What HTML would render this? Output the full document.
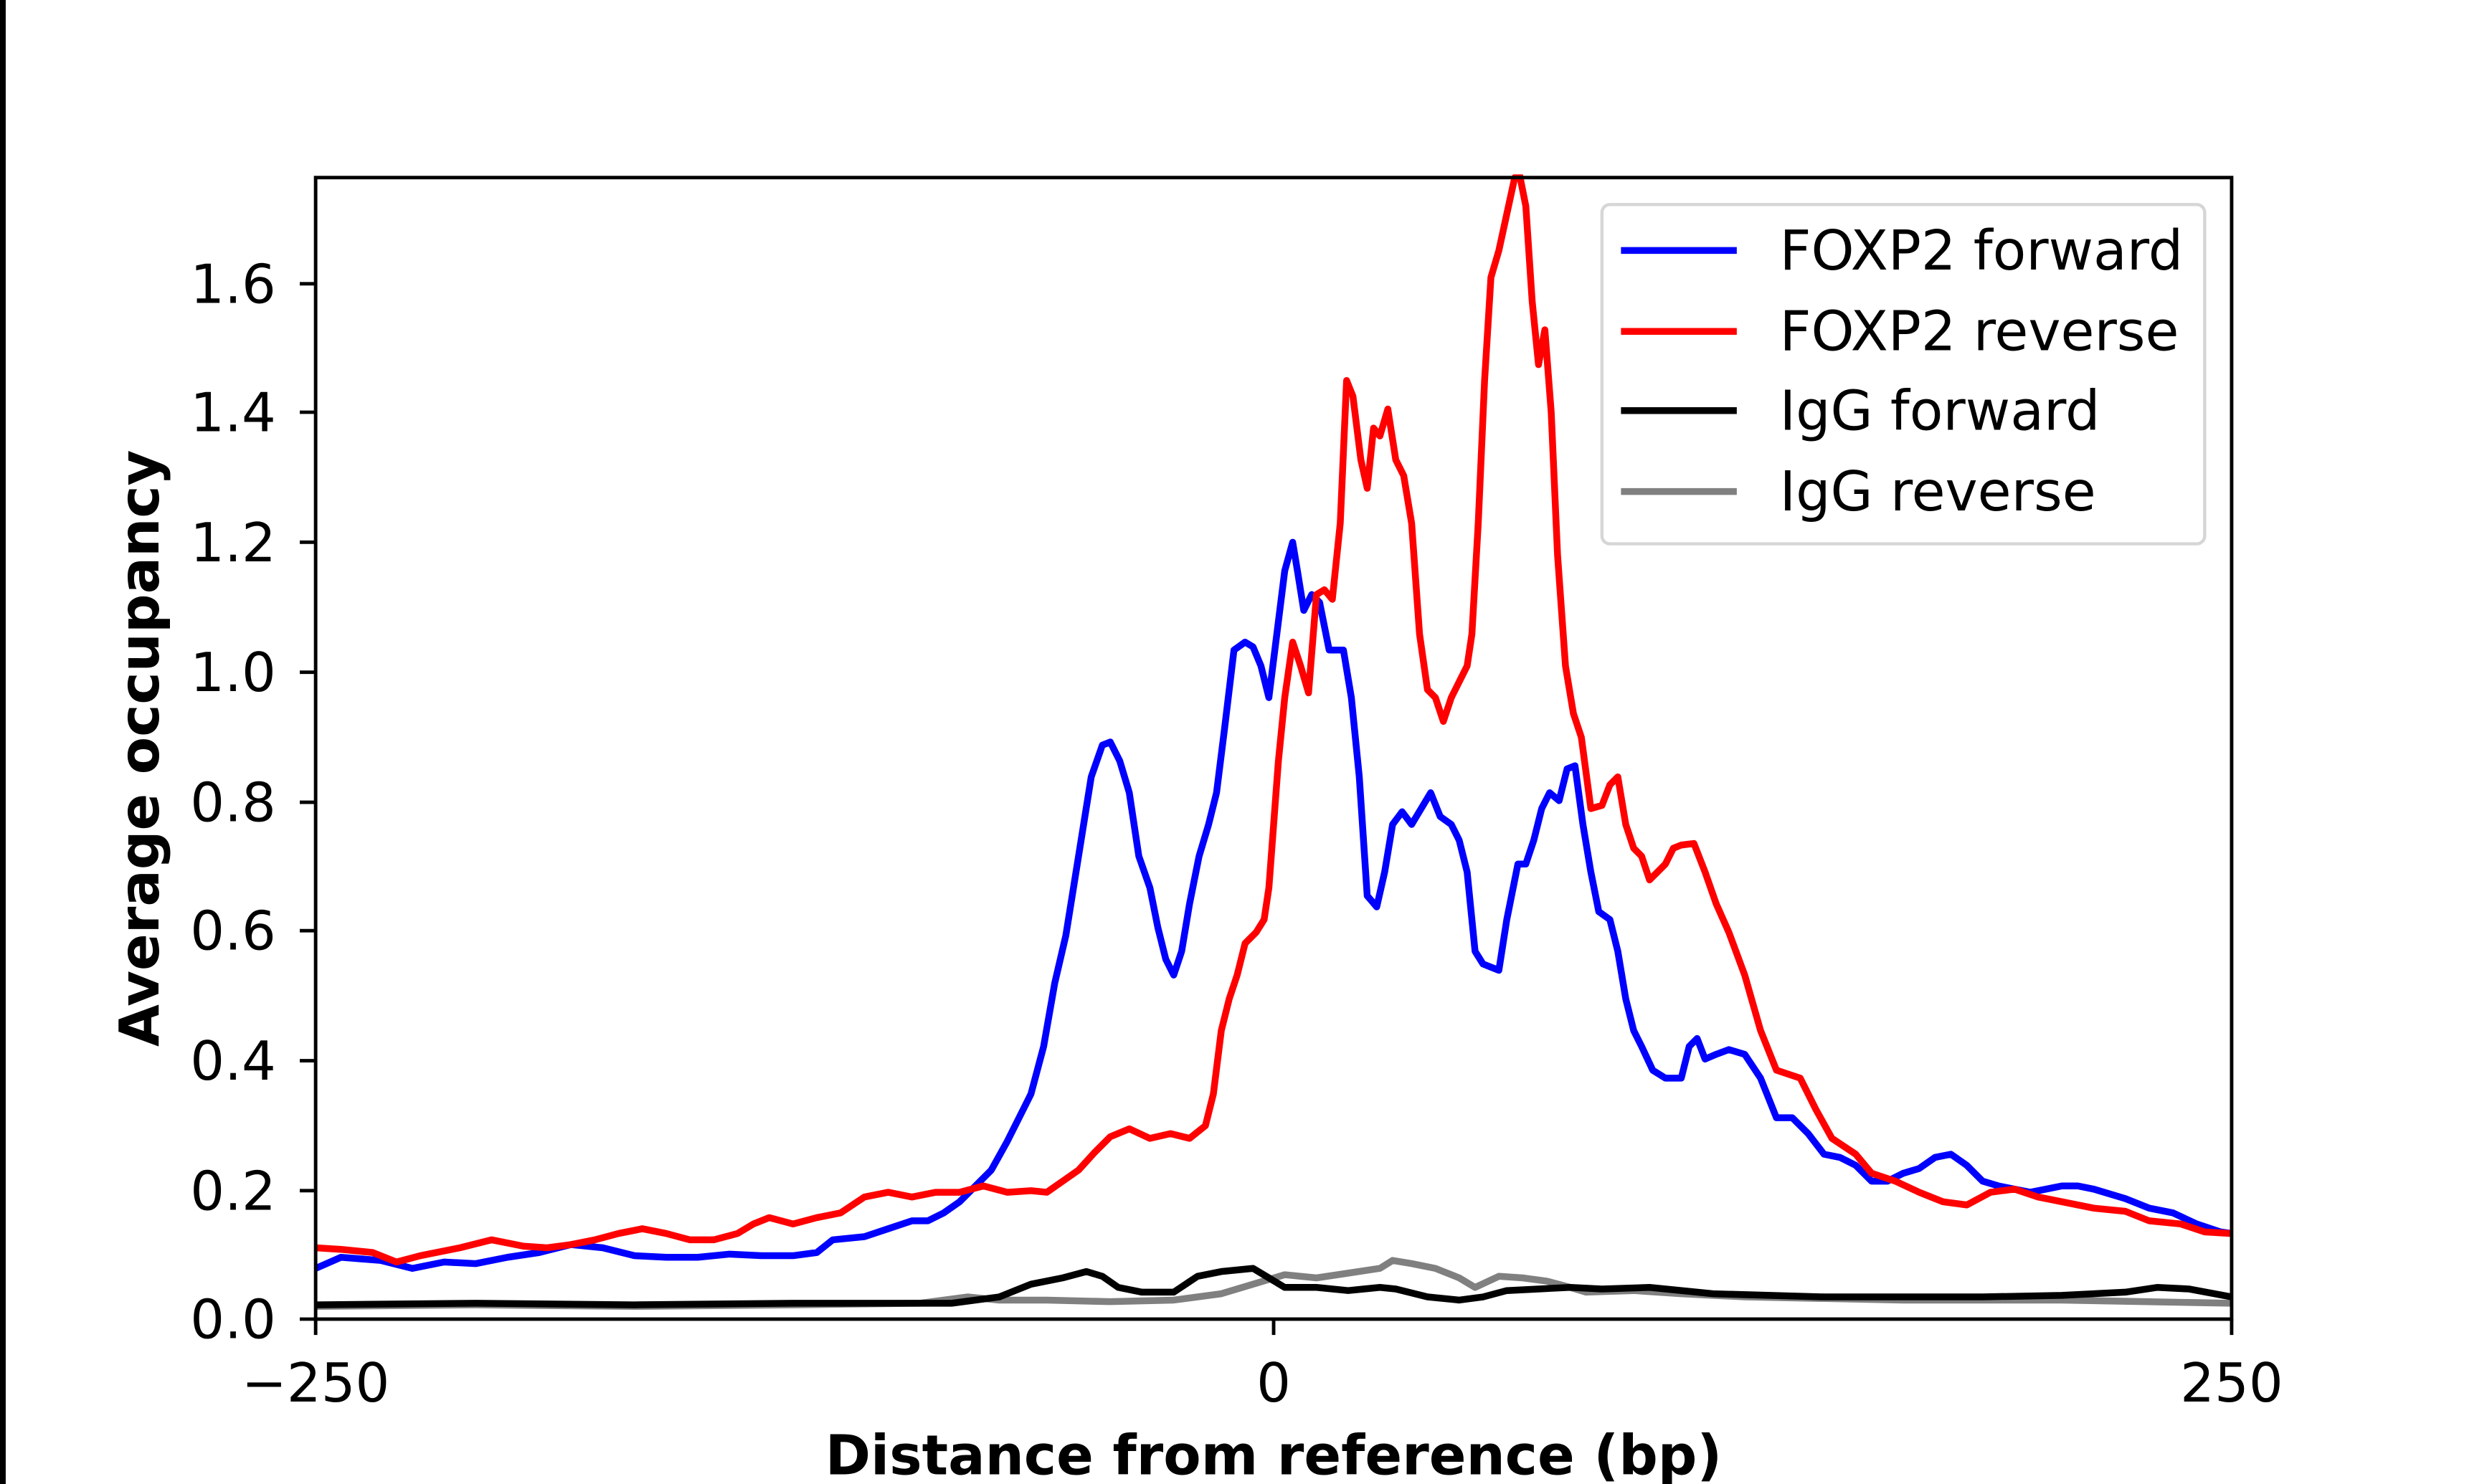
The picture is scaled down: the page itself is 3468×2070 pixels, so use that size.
<!DOCTYPE html>
<html><head><meta charset="utf-8"><style>html,body{margin:0;padding:0;background:#fff}svg{display:block}</style></head>
<body>
<svg width="3468" height="2070" viewBox="0 0 1568 936" preserveAspectRatio="none" xmlns="http://www.w3.org/2000/svg" font-family="'DejaVu Sans','Liberation Sans',sans-serif">
<rect x="0" y="0" width="1568" height="936" fill="#fff"/>
<rect x="0" y="0" width="3.6" height="936" fill="#000"/>
<defs><clipPath id="c"><rect x="199" y="110" width="1208" height="722"/></clipPath></defs>
<g clip-path="url(#c)" fill="none" stroke-width="4.3" stroke-linejoin="round">
<polyline stroke="#808080" points="199,824 300,823 400,824 500,823 580,822 610,818 630,820 660,820 700,821 740,820 770,816 790,810 810,804 830,806 850,803 870,800 878,795 890,797 905,800 920,806 930,812 945,805 960,806 975,808 990,812 1000,815 1030,814 1060,816 1100,818 1200,820 1300,820 1407,822"/>
<polyline stroke="#000" points="199,823 300,822 400,823 500,822 600,822 630,818 650,810 670,806 685,802 695,805 705,812 720,815 740,815 755,805 770,802 790,800 800,806 810,812 830,812 850,814 870,812 880,813 900,818 920,820 935,818 950,814 970,813 990,812 1010,813 1040,812 1080,816 1150,818 1200,818 1250,818 1300,817 1340,815 1360,812 1380,813 1407,818"/>
<polyline stroke="#0000ff" points="199,800 215,793 240,795 260,800 280,796 300,797 320,793 340,790 360,785 380,787 400,792 420,793 440,793 460,791 480,792 500,792 515,790 525,782 545,780 560,775 575,770 585,770 595,765 605,758 615,748 625,738 635,720 645,700 650,690 658,660 665,620 672,590 680,540 688,490 695,470 700,468 706,480 712,500 718,540 725,560 730,585 735,605 740,615 745,600 750,570 756,540 762,520 767,500 772,460 778,410 785,405 790,408 795,420 800,440 805,400 810,360 815,342 818,360 822,385 827,375 832,380 838,410 842,410 847,410 852,440 857,490 862,565 868,572 873,550 878,520 884,512 890,520 896,510 902,500 908,515 915,520 920,530 925,550 930,600 935,608 940,610 945,612 950,580 957,545 962,545 967,530 972,510 977,500 983,505 988,485 993,483 998,520 1003,550 1008,575 1015,580 1020,600 1025,630 1030,650 1035,660 1042,675 1050,680 1060,680 1065,660 1070,655 1075,668 1082,665 1090,662 1100,665 1110,680 1120,705 1130,705 1140,715 1150,728 1160,730 1170,735 1180,745 1190,745 1200,740 1210,737 1220,730 1230,728 1240,735 1250,745 1260,748 1270,750 1280,752 1290,750 1300,748 1310,748 1320,750 1340,756 1355,762 1370,765 1385,772 1400,777 1407,778"/>
<polyline stroke="#ff0000" points="199,787 215,788 235,790 250,796 265,792 290,787 310,782 330,786 345,787 360,785 375,782 390,778 405,775 420,778 435,782 450,782 465,778 475,772 485,768 500,772 515,768 530,765 545,755 560,752 575,755 590,752 605,752 620,748 635,752 650,751 660,752 670,745 680,738 690,727 700,717 712,712 725,718 738,715 750,718 760,710 765,690 770,650 775,630 780,615 785,595 792,588 797,580 800,560 803,520 806,480 810,440 815,405 820,420 825,437 830,375 835,372 840,378 845,330 849,240 853,250 858,290 862,308 866,270 870,275 875,258 880,290 885,300 890,330 895,400 900,435 905,440 910,455 915,440 920,430 925,420 928,400 932,330 936,240 940,175 945,158 950,135 955,112 958,110 962,130 966,190 970,230 974,208 978,260 982,350 987,420 992,450 997,465 1003,510 1010,508 1015,495 1020,490 1025,520 1030,535 1035,540 1040,555 1045,550 1050,545 1055,535 1060,533 1068,532 1075,550 1082,570 1090,588 1100,615 1110,650 1120,675 1135,680 1145,700 1155,718 1170,728 1180,740 1195,745 1210,752 1225,758 1240,760 1255,752 1270,750 1285,755 1300,758 1320,762 1340,764 1355,770 1375,772 1390,777 1407,778"/>
</g>
<rect x="199" y="112" width="1208" height="720" fill="none" stroke="#000" stroke-width="2.2"/>
<g stroke="#000" stroke-width="2.2">
<line x1="189" x2="199" y1="832" y2="832"/><line x1="189" x2="199" y1="751" y2="751"/><line x1="189" x2="199" y1="669" y2="669"/><line x1="189" x2="199" y1="587" y2="587"/><line x1="189" x2="199" y1="506" y2="506"/><line x1="189" x2="199" y1="424" y2="424"/><line x1="189" x2="199" y1="342" y2="342"/><line x1="189" x2="199" y1="260" y2="260"/><line x1="189" x2="199" y1="179" y2="179"/>
<line x1="199" x2="199" y1="832" y2="842"/><line x1="803" x2="803" y1="832" y2="842"/><line x1="1407" x2="1407" y1="832" y2="842"/>
</g>
<g font-size="34" text-anchor="end" fill="#000">
<text x="174" y="844">0.0</text><text x="174" y="763">0.2</text><text x="174" y="681">0.4</text><text x="174" y="599">0.6</text><text x="174" y="518">0.8</text><text x="174" y="436">1.0</text><text x="174" y="354">1.2</text><text x="174" y="272">1.4</text><text x="174" y="191">1.6</text>
</g>
<g font-size="34" text-anchor="middle" fill="#000">
<text x="199" y="884">−250</text><text x="803" y="884">0</text><text x="1407" y="884">250</text>
</g>
<text x="803" y="930" font-size="34.5" font-weight="bold" text-anchor="middle">Distance from reference (bp)</text>
<text transform="translate(100,472) rotate(-90)" font-size="34.5" font-weight="bold" text-anchor="middle">Average occupancy</text>
<rect x="1010" y="129" width="380" height="214" rx="5" fill="#fff" fill-opacity="0.8" stroke="#d6d6d6" stroke-width="2"/>
<g stroke-width="4.3">
<line x1="1022" x2="1095" y1="158" y2="158" stroke="#0000ff"/>
<line x1="1022" x2="1095" y1="209" y2="209" stroke="#ff0000"/>
<line x1="1022" x2="1095" y1="259" y2="259" stroke="#000"/>
<line x1="1022" x2="1095" y1="310" y2="310" stroke="#808080"/>
</g>
<g font-size="34.5" fill="#000">
<text x="1122" y="170">FOXP2 forward</text><text x="1122" y="221">FOXP2 reverse</text><text x="1122" y="271">IgG forward</text><text x="1122" y="322">IgG reverse</text>
</g>
</svg>
</body></html>
